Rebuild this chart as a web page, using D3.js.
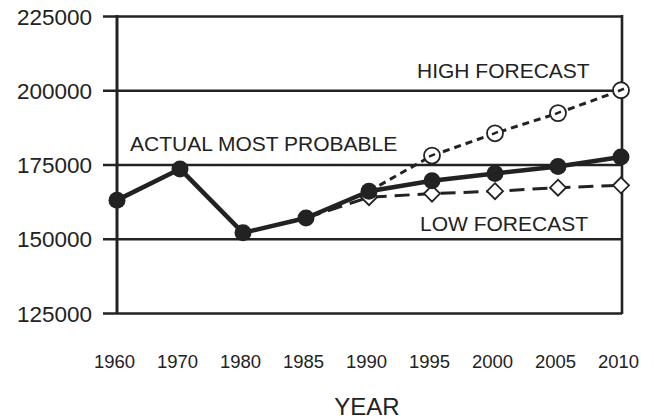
<!DOCTYPE html>
<html>
<head>
<meta charset="utf-8">
<script src="https://cdn.jsdelivr.net/npm/d3@7"></script>
<style>
    body { margin: 0; background: white; }
    text { font-family: "Liberation Sans", Arial, sans-serif; fill: #222; }
</style>
</head>
<body>
<div id="chart"></div>
<script>
// Chart data
//
var years        = ['1960', '1970', '1980', '1985', '1990', '1995', '2000', '2005', '2010'];
var yTicks       = [125000, 150000, 175000, 200000, 225000];

var actualYears  = ['1960', '1970', '1980', '1985', '1990', '1995', '2000', '2005', '2010'];
var actualValues = [163000, 173500, 152000, 157000, 166000, 169500, 172000, 174300, 177500];

var highYears    = ['1990', '1995', '2000', '2005', '2010'];
var highValues   = [166000, 178000, 185500, 192300, 200000];

var lowYears     = ['1985', '1990', '1995', '2000', '2005', '2010'];
var lowValues    = [157000, 164000, 165200, 166000, 167200, 168000];

var labels       = [
    { text: 'ACTUAL MOST PROBABLE', year: '1960', value: 179500, dx: 13 },
    { text: 'HIGH FORECAST',        year: '1995', value: 204000, dx: -15 },
    { text: 'LOW FORECAST',         year: '1995', value: 152500, dx: -12 }
];

// Set globals
//
var svg_width  = 654;
var svg_height = 419;

var x_box_min  = 117;
var x_box_max  = 622;
var y_box_min  = 16;
var y_box_max  = 313;
var ink        = '#222';

var svg = d3.select('#chart').append('svg')
    .attr('width', svg_width)
    .attr('height', svg_height)
    .attr('viewBox', `0 0 ${svg_width} ${svg_height}`);

// Scales
//
var x = d3.scalePoint().domain(years).range([x_box_min, x_box_max - 1]);
var y = d3.scaleLinear().domain([125000, 225000]).range([y_box_max, y_box_min]);

// Gridlines and y labels
//
var yAxis = svg.append('g')
    .attr('transform', 'translate(103,0)')
    .call(d3.axisLeft(y).tickValues(yTicks).tickSize(-(x_box_max - 103)).tickPadding(11).tickFormat(d3.format('d')));
yAxis.select('.domain').remove();
yAxis.selectAll('line').attr('stroke', ink).attr('stroke-width', 2.6);
yAxis.selectAll('text')
    .attr('fill', ink)
    .style('font-size', '22.5px')
    .attr('dy', '0.36em');

// Box sides
//
svg.append('line')
    .attr('x1', x_box_min).attr('x2', x_box_min)
    .attr('y1', y_box_min - 1).attr('y2', y_box_max + 1)
    .attr('stroke', ink).attr('stroke-width', 3);
svg.append('line')
    .attr('x1', x_box_max).attr('x2', x_box_max)
    .attr('y1', y_box_min - 1).attr('y2', y_box_max + 1)
    .attr('stroke', ink).attr('stroke-width', 2.6);

// X labels
//
var xAxis = svg.append('g')
    .attr('transform', 'translate(-3,368)')
    .call(d3.axisBottom(x).tickSize(0).tickPadding(0));
xAxis.select('.domain').remove();
xAxis.selectAll('text')
    .attr('fill', ink)
    .style('font-size', '18.5px')
    .attr('dy', '0');

svg.append('text')
    .attr('x', 367)
    .attr('y', 415)
    .attr('text-anchor', 'middle')
    .style('font-size', '24px')
    .text('YEAR');

// Series lines
//
function series(ys, vs) {
    return ys.map((d, i) => ({ year: d, value: vs[i] }));
}
var line = d3.line().x(d => x(d.year)).y(d => y(d.value));

var high   = series(highYears, highValues);
var low    = series(lowYears, lowValues);
var actual = series(actualYears, actualValues);

svg.append('path')
    .datum(high)
    .attr('d', line)
    .attr('fill', 'none')
    .attr('stroke', ink)
    .attr('stroke-width', 3)
    .attr('stroke-dasharray', '7,5');

svg.append('path')
    .datum(low)
    .attr('d', line)
    .attr('fill', 'none')
    .attr('stroke', ink)
    .attr('stroke-width', 3)
    .attr('stroke-dasharray', '15,8');

svg.append('path')
    .datum(actual)
    .attr('d', line)
    .attr('fill', 'none')
    .attr('stroke', ink)
    .attr('stroke-width', 4.5)
    .attr('stroke-linejoin', 'round');

// Low forecast diamonds
//
svg.append('g').selectAll('path')
    .data(low.slice(1))
    .join('path')
    .attr('d', d => {
        let cx = x(d.year), cy = y(d.value);
        return `M${cx},${cy - 8}L${cx + 8},${cy}L${cx},${cy + 8}L${cx - 8},${cy}Z`;
    })
    .attr('fill', 'white')
    .attr('stroke', ink)
    .attr('stroke-width', 1.8);

// High forecast open circles
//
var highMarks = svg.append('g').selectAll('g')
    .data(high.slice(1))
    .join('g')
    .attr('transform', d => `translate(${x(d.year)},${y(d.value)})`);
highMarks.append('circle')
    .attr('r', 8)
    .attr('fill', 'white')
    .attr('stroke', ink)
    .attr('stroke-width', 1.8);
highMarks.append('line')
    .attr('x1', -3).attr('y1', 1)
    .attr('x2', 3).attr('y2', -1.5)
    .attr('stroke', ink)
    .attr('stroke-width', 2.5);

// Actual filled circles
//
svg.append('g').selectAll('circle')
    .data(actual)
    .join('circle')
    .attr('cx', d => x(d.year))
    .attr('cy', d => y(d.value))
    .attr('r', 8.5)
    .attr('fill', ink);

// Series labels
//
svg.append('g').selectAll('text')
    .data(labels)
    .join('text')
    .attr('x', d => x(d.year) + d.dx)
    .attr('y', d => y(d.value))
    .style('font-size', '21px')
    .text(d => d.text);
</script>
</body>
</html>
